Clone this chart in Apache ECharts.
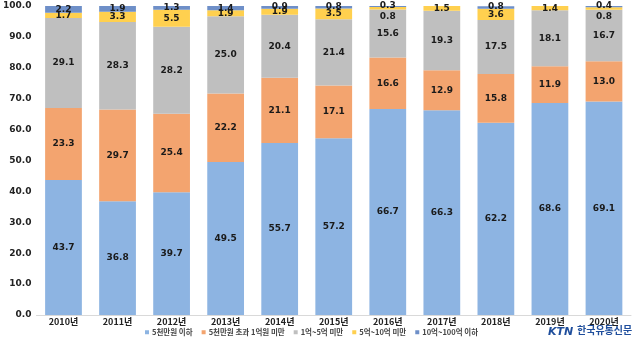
<!DOCTYPE html>
<html><head><meta charset="utf-8">
<script src="https://cdn.jsdelivr.net/npm/echarts@6/dist/echarts.min.js"></script>
<style>html,body{margin:0;padding:0;background:#fff}#c{width:640px;height:340px}</style>
</head><body><div id="c"></div>
<script>
const categories = ['2010년','2011년','2012년','2013년','2014년','2015년','2016년','2017년','2018년','2019년','2020년'];
const under50m = [43.7,36.8,39.7,49.5,55.7,57.2,66.7,66.3,62.2,68.6,69.1];
const m50to100m = [23.3,29.7,25.4,22.2,21.1,17.1,16.6,12.9,15.8,11.9,13.0];
const b1to5 = [29.1,28.3,28.2,25.0,20.4,21.4,15.6,19.3,17.5,18.1,16.7];
const b5to10 = [1.7,3.3,5.5,1.9,1.9,3.5,0.8,1.5,3.6,1.4,0.8];
const b10to100 = [2.2,1.9,1.3,1.4,0.9,0.8,0.3,0,0.8,0,0.4];
const seriesNames = ['5천만원 이하','5천만원 초과 1억원 미만','1억~5억 미만','5억~10억 미만','10억~100억 이하'];
const yTicks = [0,10,20,30,40,50,60,70,80,90,100];

const colors = ['#8db4e2','#f3a46f','#bfbfbf','#ffd04f','#6e8fc8'];
const lbl = {show:true, position:'inside', color:'#1a1a1a', fontSize:9, fontWeight:'bold', fontFamily:'DejaVu Sans',
  formatter: p => p.value === 0 ? '' : p.value.toFixed(1)};
function mk(name, arr, i, extra){
  return {name, type:'bar', stack:'s', barWidth:'68%', data: arr.map((v,j)=> {
      const d = {value:v};
      if (extra) Object.assign(d, extra(v,j));
      return d;
    }),
    itemStyle:{color:colors[i]}, label:Object.assign({}, lbl)};
}
const series = [
  mk(seriesNames[0], under50m, 0),
  mk(seriesNames[1], m50to100m, 1),
  mk(seriesNames[2], b1to5, 2),
  mk(seriesNames[3], b5to10, 3, (v,j)=> v < 1 ? {label:{offset:[0,8]}} : null),
  mk(seriesNames[4], b10to100, 4, (v,j)=> v < 1 ? {label:{offset:[0,-1]}} : null)
];
const chart = echarts.init(document.getElementById('c'));
chart.setOption({
  animation:false,
  grid:{left:32,right:9,top:6,bottom:25},
  legend:{bottom:-1, left:140, itemWidth:4, itemHeight:4, itemGap:9, icon:'rect',
    textStyle:{fontSize:7.5, color:'#444', fontWeight:'bold', fontFamily:'Noto Sans CJK KR', padding:[0,0,0,-2]}},
  xAxis:{type:'category', data:categories,
    axisLine:{lineStyle:{color:'#d9d9d9'}}, axisTick:{show:false},
    axisLabel:{color:'#222', fontSize:9, fontWeight:'bold', fontFamily:'Noto Sans CJK KR', margin:2}},
  yAxis:{type:'value', min:yTicks[0], max:yTicks[yTicks.length-1], interval:10,
    splitLine:{show:false}, axisLine:{show:false},
    axisLabel:{color:'#222', fontSize:9, fontWeight:'bold', fontFamily:'DejaVu Sans', margin:5, formatter:v=>v.toFixed(1)}},
  series,
  graphic:[
    {type:'text', left:548, top:327, style:{text:'KTN', fill:'#1f4e9c', font:'italic bold 11px "DejaVu Sans"'}},
    {type:'text', left:577, top:325, style:{text:'한국유통신문', fill:'#1f4e9c', font:'bold 10px "Noto Sans CJK KR"'}}
  ]
});
</script></body></html>
